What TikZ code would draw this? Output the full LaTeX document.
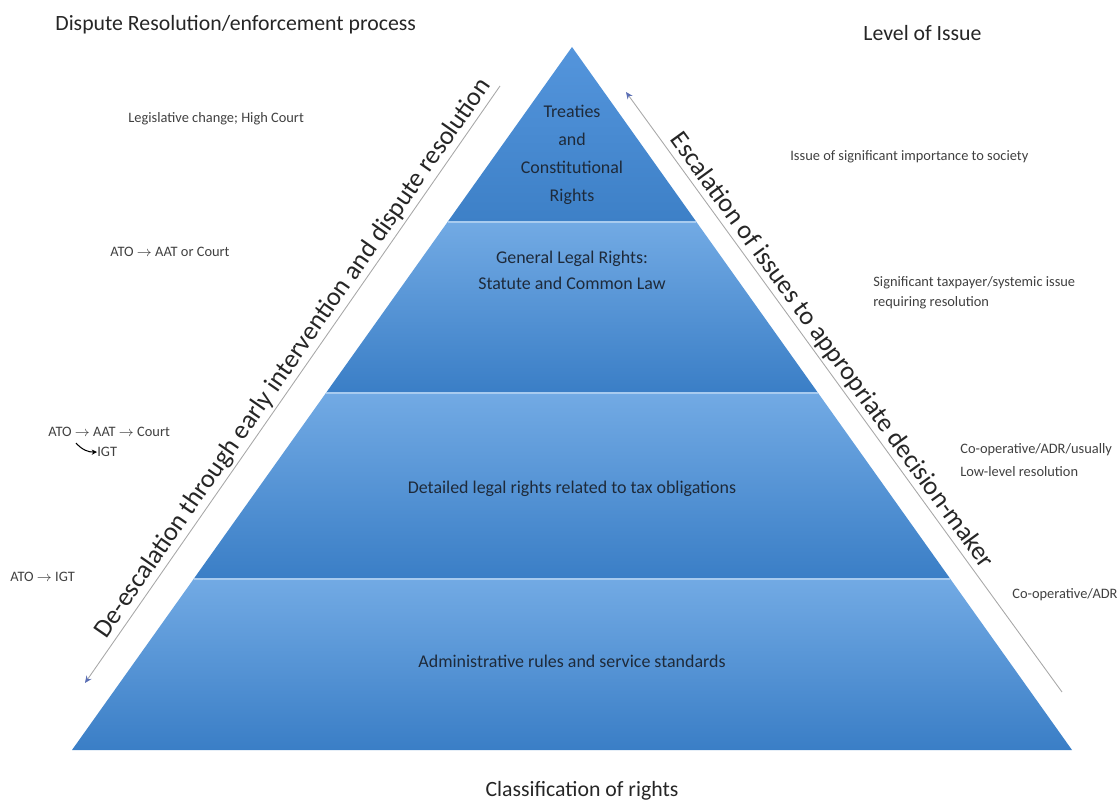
\documentclass[tikz,border=0pt]{standalone}
\usepackage{fontspec}
\setmainfont{Carlito}
\usetikzlibrary{arrows.meta,calc,positioning}
\definecolor{bandlight}{HTML}{72AAE4}
\definecolor{banddark}{HTML}{3A7EC6}
\definecolor{apexlight}{HTML}{5495DC}
\definecolor{apexdark}{HTML}{3D80C7}
\definecolor{bandline}{HTML}{A8CBEF}
\definecolor{layertext}{HTML}{1E2A3A}
\definecolor{guidegray}{HTML}{A8A8A8}
\definecolor{guideblue}{HTML}{5A6EB4}

\begin{document}
\begin{tikzpicture}[
x=0.02cm, y=-0.02cm,
heading/.style={font=\fontsize{12.4}{14}\selectfont, text=black!85, inner sep=0pt},
side/.style={font=\fontsize{8.2}{11.5}\selectfont, text=black!75, align=left, anchor=west, inner sep=0pt},
layer/.style={font=\fontsize{10.2}{14.7}\selectfont, text=layertext, align=center},
slant/.style={font=\fontsize{14.9}{17}\selectfont, text=black!85, inner sep=1.5pt},
band/.style={top color=bandlight, bottom color=banddark},
guide/.style={draw=guidegray, line width=0.5pt, -{Stealth[length=4pt,width=3.5pt,color=guideblue]}},
hook/.style={-{Stealth[length=3pt,width=3pt]}, line width=0.6pt}
]
\useasboundingbox (0,0) rectangle (1119,807);

% pyramid corners
\coordinate (apex) at (572,47);
\coordinate (bl) at (72,750);
\coordinate (br) at (1072,750);
\coordinate (l1) at ($(apex)!0.2489!(bl)$);
\coordinate (r1) at ($(apex)!0.2489!(br)$);
\coordinate (l2) at ($(apex)!0.4922!(bl)$);
\coordinate (r2) at ($(apex)!0.4922!(br)$);
\coordinate (l3) at ($(apex)!0.7568!(bl)$);
\coordinate (r3) at ($(apex)!0.7568!(br)$);

% bands
\shade[top color=apexlight, bottom color=apexdark] (apex) -- (r1) -- (l1) -- cycle;
\shade[band] (l1) -- (r1) -- (r2) -- (l2) -- cycle;
\shade[band] (l2) -- (r2) -- (r3) -- (l3) -- cycle;
\shade[band] (l3) -- (r3) -- (br) -- (bl) -- cycle;
\draw[bandline, line width=0.7pt] (l1) -- (r1) (l2) -- (r2) (l3) -- (r3);

% layer texts
\node[layer, font=\fontsize{10.2}{15.9}\selectfont] (treaties) at (572,155) {Treaties\\and\\Constitutional\\Rights};
\node[layer] (general) at (572,270) {General Legal Rights:\\Statute and Common Law};
\node[layer] (detailed) at (572,489) {Detailed legal rights related to tax obligations};
\node[layer] (admin) at (572,661) {Administrative rules and service standards};

% headings
\node[heading, anchor=west] (disp) at (55,25) {Dispute Resolution/enforcement process};
\node[heading, anchor=west] (level) at (863,33) {Level of Issue};
\node[heading] (classif) at (582,791) {Classification of rights};

% left labels
\node[side] (legis) at (128,119) {Legislative change; High Court};
\node[side] (ato1) at (110,252) {ATO $\to$ AAT or Court};
\node[side] (ato2) at (48,432) {ATO $\to$ AAT $\to$ Court};
\node[side] (igt2) at (97,452) {IGT};
\node[side] (ato3) at (10,577) {ATO $\to$ IGT};
\coordinate (hookstart) at (76,443);
\draw[hook] (hookstart) to[bend right=25] (igt2.west);

% right labels
\node[side] (society) at (790,157) {Issue of significant importance to society};
\node[side] (taxpayer) at (873,293) {Significant taxpayer/systemic issue\\requiring resolution};
\node[side, font=\fontsize{8.2}{13.5}\selectfont] (coop1) at (960,460) {Co-operative/ADR/usually\\Low-level resolution};
\node[side] (coop2) at (1012,595) {Co-operative/ADR};

% guide arrows
\coordinate (deTop) at (500,86);
\coordinate (deBot) at (85,683);
\coordinate (esBot) at (1062,692);
\coordinate (esTop) at (626,92);
\draw[guide] (deTop) -- (deBot);
\draw[guide] (esBot) -- (esTop);
\node[slant, rotate=55.2, anchor=south] (deesc) at ($(deBot)!0.53!(deTop)$)
{De-escalation through early intervention and dispute resolution};
\node[slant, rotate=-54, anchor=south] (esc) at ($(esTop)!0.445!(esBot)$)
{Escalation of issues to appropriate decision-maker};

\end{tikzpicture}
\end{document}
